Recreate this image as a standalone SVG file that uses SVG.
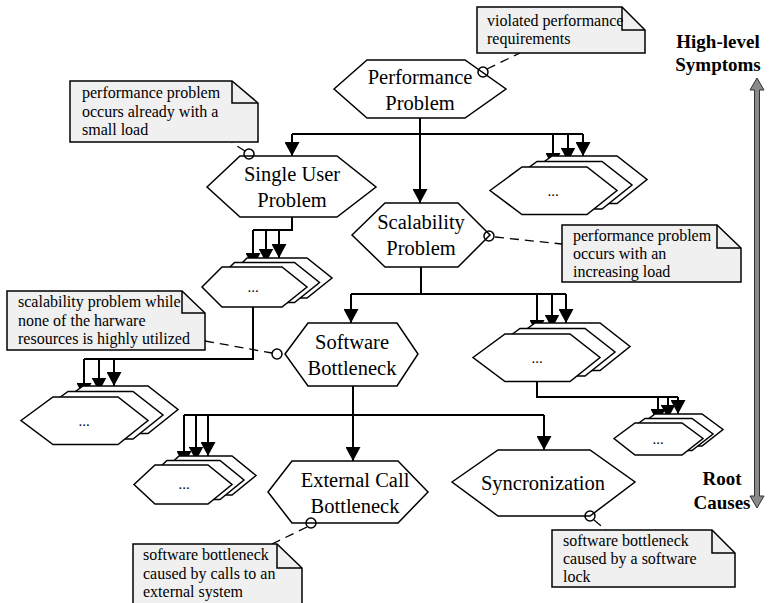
<svg xmlns="http://www.w3.org/2000/svg" width="771" height="603" viewBox="0 0 771 603">
  <defs>
    <style>
      .hex { fill: #ffffff; stroke: #000000; stroke-width: 1.5; stroke-linejoin: miter; }
      .lbl { font-family: "Liberation Serif", "Times New Roman", serif; font-size: 20.5px; fill: #000000; text-anchor: middle; }
      .dots { font-family: "Liberation Serif", "Times New Roman", serif; font-size: 15px; fill: #000000; text-anchor: middle; }
      .note { fill: #f0f0f0; stroke: #000000; stroke-width: 1.5; }
      .fold { fill: none; stroke: #000000; stroke-width: 1.5; }
      .ntxt { font-family: "Liberation Serif", "Times New Roman", serif; font-size: 16px; fill: #000000; }
      .conn { fill: none; stroke: #000000; stroke-width: 2; }
      .dash { fill: none; stroke: #000000; stroke-width: 1.3; stroke-dasharray: 9 6; }
      .ring { fill: none; stroke: #000000; stroke-width: 1.5; }
      .side { font-family: "Liberation Serif", "Times New Roman", serif; font-size: 19px; font-weight: bold; fill: #000000; text-anchor: middle; }
    </style>
    <marker id="arr" markerUnits="userSpaceOnUse" markerWidth="15" markerHeight="15" refX="14" refY="7.5" orient="auto">
      <path d="M0,0 L14,7.5 L0,15 Z" fill="#000000"/>
    </marker>
    <!-- one hexagon of a stacked group, at origin -->
    <polygon id="hexBig" points="0,23.5 32,0 97,0 127,23.5 97,47.5 32,47.5"/>
    <polygon id="hexMid" points="0,19.5 21,0 74,0 98,19.5 74,39 21,39"/>
    <polygon id="hexSmall" points="0,20 20,0 80,0 105,20 80,40 20,40"/>
    <polygon id="hexTiny" points="0,15.5 21,0 68,0 89,15.5 68,32 21,32"/>
  </defs>

  <!-- side scale: symptoms to causes -->
  <g id="scale">
    <text class="side" x="718" y="48">High-level</text>
    <text class="side" x="718" y="71">Symptoms</text>
    <text class="side" x="722" y="485">Root</text>
    <text class="side" x="722" y="509">Causes</text>
    <polygon points="757,78 764,90 759.5,90 759.5,496 764,496 757,508 750,496 754.5,496 754.5,90 750,90" fill="#8a8a8a" stroke="#303030" stroke-width="1"/>
  </g>

  <!-- connectors -->
  <g id="connectors">
    <path class="conn" d="M420,118 V203" marker-end="url(#arr)"/>
    <path class="conn" d="M292,134 H583"/>
    <path class="conn" d="M292,134 V156" marker-end="url(#arr)"/>
    <path class="conn" d="M553,134 V167" marker-end="url(#arr)"/>
    <path class="conn" d="M568,134 V161.5" marker-end="url(#arr)"/>
    <path class="conn" d="M583,134 V156" marker-end="url(#arr)"/>

    <path class="conn" d="M292,217 V230 H253"/>
    <path class="conn" d="M253,230 V267" marker-end="url(#arr)"/>
    <path class="conn" d="M266,230 V262.5" marker-end="url(#arr)"/>
    <path class="conn" d="M279,230 V258" marker-end="url(#arr)"/>

    <path class="conn" d="M421,267 V294"/>
    <path class="conn" d="M351,294 H566"/>
    <path class="conn" d="M351,294 V323" marker-end="url(#arr)"/>
    <path class="conn" d="M537,294 V334" marker-end="url(#arr)"/>
    <path class="conn" d="M552,294 V328.5" marker-end="url(#arr)"/>
    <path class="conn" d="M566,294 V323" marker-end="url(#arr)"/>

    <path class="conn" d="M253,307 V359 H84"/>
    <path class="conn" d="M84,359 V397" marker-end="url(#arr)"/>
    <path class="conn" d="M99,359 V391.5" marker-end="url(#arr)"/>
    <path class="conn" d="M114,359 V386" marker-end="url(#arr)"/>

    <path class="conn" d="M537,382 V397 H678"/>
    <path class="conn" d="M658,397 V423" marker-end="url(#arr)"/>
    <path class="conn" d="M668,397 V418.5" marker-end="url(#arr)"/>
    <path class="conn" d="M678,397 V414" marker-end="url(#arr)"/>

    <path class="conn" d="M353,386 V461" marker-end="url(#arr)"/>
    <path class="conn" d="M184,415 H544"/>
    <path class="conn" d="M544,415 V450" marker-end="url(#arr)"/>
    <path class="conn" d="M184,415 V465" marker-end="url(#arr)"/>
    <path class="conn" d="M196,415 V460.5" marker-end="url(#arr)"/>
    <path class="conn" d="M208,415 V456" marker-end="url(#arr)"/>

    <!-- note anchors -->
    <path class="dash" d="M487,69 L520,53"/>
    <path class="dash" d="M245,151 L232,143"/>
    <path class="dash" d="M495,237 L562,244"/>
    <path class="dash" d="M205,341 L272,353"/>
    <path class="dash" d="M307,527 L272,544"/>
    <path class="dash" d="M594,520 L606,530"/>
  </g>

  <!-- problem nodes -->
  <g id="performance-problem">
    <polygon class="hex" points="334,89 367,60 465,60 506,89 465,118 367,118"/>
    <text class="lbl" x="420" y="84">Performance</text>
    <text class="lbl" x="420" y="110">Problem</text>
    <circle class="ring" cx="483" cy="72" r="5"/>
  </g>

  <g id="single-user-problem">
    <polygon class="hex" points="207,187 240,156 337,156 376,187 337,217 240,217"/>
    <text class="lbl" x="292" y="181">Single User</text>
    <text class="lbl" x="292" y="207">Problem</text>
    <circle class="ring" cx="249" cy="154" r="5"/>
  </g>

  <g id="scalability-problem">
    <polygon class="hex" points="352,235 385,203 458,203 490,235 458,267 385,267"/>
    <text class="lbl" x="421" y="229">Scalability</text>
    <text class="lbl" x="421" y="255">Problem</text>
    <circle class="ring" cx="489" cy="236" r="5"/>
  </g>

  <g id="software-bottleneck">
    <polygon class="hex" points="285,354 308,323 397,323 418,354 397,386 308,386"/>
    <text class="lbl" x="352" y="349">Software</text>
    <text class="lbl" x="352" y="375">Bottleneck</text>
    <circle class="ring" cx="277" cy="354" r="5"/>
  </g>

  <g id="external-call-bottleneck">
    <polygon class="hex" points="268,492 292,461 398,461 428,492 398,523 292,523"/>
    <text class="lbl" x="355" y="487">External Call</text>
    <text class="lbl" x="355" y="513">Bottleneck</text>
    <circle class="ring" cx="311" cy="523" r="5"/>
  </g>

  <g id="syncronization">
    <polygon class="hex" points="452,482 498,450 590,450 635,482 590,516 498,516"/>
    <text class="lbl" x="543" y="490">Syncronization</text>
    <circle class="ring" cx="590" cy="516" r="5"/>
  </g>

  <!-- stacked placeholder nodes -->
  <g id="stack-a">
    <use href="#hexBig" class="hex" x="520" y="156"/>
    <use href="#hexBig" class="hex" x="505" y="161.5"/>
    <use href="#hexBig" class="hex" x="490" y="167"/>
    <text class="dots" x="553" y="196">...</text>
  </g>

  <g id="stack-b">
    <use href="#hexSmall" class="hex" x="227" y="258"/>
    <use href="#hexSmall" class="hex" x="214.5" y="262.5"/>
    <use href="#hexSmall" class="hex" x="202" y="267"/>
    <text class="dots" x="253" y="292">...</text>
  </g>

  <g id="stack-c">
    <use href="#hexBig" class="hex" x="503" y="323"/>
    <use href="#hexBig" class="hex" x="488" y="328.5"/>
    <use href="#hexBig" class="hex" x="473" y="334"/>
    <text class="dots" x="537" y="363">...</text>
  </g>

  <g id="stack-d">
    <use href="#hexBig" class="hex" x="51" y="386"/>
    <use href="#hexBig" class="hex" x="36" y="391.5"/>
    <use href="#hexBig" class="hex" x="21" y="397"/>
    <text class="dots" x="84" y="426">...</text>
  </g>

  <g id="stack-e">
    <use href="#hexTiny" class="hex" x="634" y="414"/>
    <use href="#hexTiny" class="hex" x="624" y="418.5"/>
    <use href="#hexTiny" class="hex" x="614" y="423"/>
    <text class="dots" x="658" y="444">...</text>
  </g>

  <g id="stack-f">
    <use href="#hexMid" class="hex" x="158" y="456"/>
    <use href="#hexMid" class="hex" x="146" y="460.5"/>
    <use href="#hexMid" class="hex" x="134" y="465"/>
    <text class="dots" x="184" y="489">...</text>
  </g>

  <!-- annotation notes -->
  <g id="note-performance">
    <path class="note" d="M477,7 H622 L645,30 V53 H477 Z"/>
    <path class="fold" d="M622,7 V30 H645"/>
    <text class="ntxt" x="487" y="26">violated performance</text>
    <text class="ntxt" x="487" y="44">requirements</text>
  </g>

  <g id="note-single-user">
    <path class="note" d="M70,81 H232 L258,103 V142 H70 Z"/>
    <path class="fold" d="M232,81 V103 H258"/>
    <text class="ntxt" x="82" y="98">performance problem</text>
    <text class="ntxt" x="82" y="117">occurs already with a</text>
    <text class="ntxt" x="82" y="135">small load</text>
  </g>

  <g id="note-scalability">
    <path class="note" d="M562,225 H717 L741,248 V282 H562 Z"/>
    <path class="fold" d="M717,225 V248 H741"/>
    <text class="ntxt" x="573" y="241">performance problem</text>
    <text class="ntxt" x="573" y="259">occurs with an</text>
    <text class="ntxt" x="573" y="277">increasing load</text>
  </g>

  <g id="note-software">
    <path class="note" d="M7,291 H182 L205,313 V350 H7 Z"/>
    <path class="fold" d="M182,291 V313 H205"/>
    <text class="ntxt" x="18" y="307">scalability problem while</text>
    <text class="ntxt" x="18" y="326">none of the harware</text>
    <text class="ntxt" x="18" y="344">resources is highly utilized</text>
  </g>

  <g id="note-external">
    <path class="note" d="M133,544 H277 L302,568 V606 H133 Z"/>
    <path class="fold" d="M277,544 V568 H302"/>
    <text class="ntxt" x="143" y="560">software bottleneck</text>
    <text class="ntxt" x="143" y="579">caused by calls to an</text>
    <text class="ntxt" x="143" y="597">external system</text>
  </g>

  <g id="note-syncronization">
    <path class="note" d="M552,530 H712 L735,553 V587 H552 Z"/>
    <path class="fold" d="M712,530 V553 H735"/>
    <text class="ntxt" x="563" y="546">software bottleneck</text>
    <text class="ntxt" x="563" y="564">caused by a software</text>
    <text class="ntxt" x="563" y="582">lock</text>
  </g>
</svg>
